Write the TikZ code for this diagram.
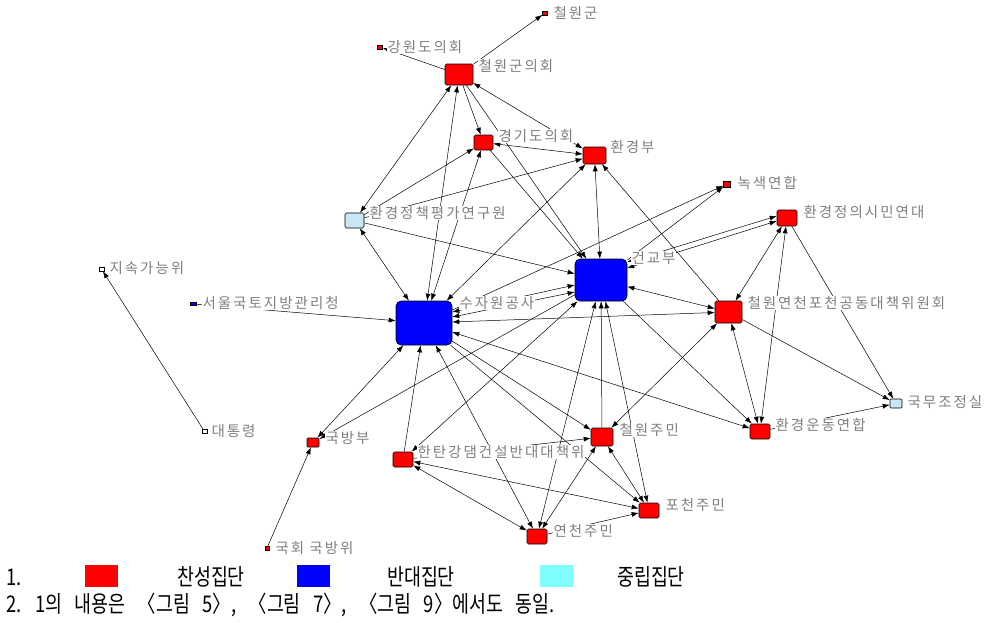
\documentclass[tikz,border=0pt]{standalone}
\usepackage{fontspec}
\setmainfont{Noto Sans CJK KR}
\newfontfamily\labf[LetterSpace=14]{Noto Sans CJK KR}
\newfontfamily\legf[FakeStretch=0.8,WordSpace=3]{Noto Sans CJK KR}
\usetikzlibrary{arrows.meta}
\definecolor{labgray}{HTML}{808080}
\definecolor{kblue}{HTML}{C8E6F4}
\definecolor{cyanleg}{HTML}{80FFFF}
\pgfdeclarelayer{edges}
\pgfdeclarelayer{labels}
\pgfsetlayers{edges,labels,main}
\begin{document}
\begin{tikzpicture}[x=1pt,y=-1pt,
  e/.style={-{Latex[length=7pt,width=5pt]}, line width=0.5pt, draw=black},
  eb/.style={{Latex[length=7pt,width=5pt]}-{Latex[length=7pt,width=5pt]}, line width=0.5pt, draw=black},
  nd/.style={draw=black, line width=0.6pt, inner sep=0pt, rounded corners=1.5pt},
  rn/.style={nd, fill=red},
  bn/.style={nd, fill=blue, rounded corners=5pt},
  cn/.style={nd, fill=kblue},
  wn/.style={nd, fill=white},
  tiny/.style={minimum width=5pt, minimum height=4pt, line width=0.5pt, rounded corners=0pt},
  lab/.style={font=\labf\fontsize{14.5}{15}\selectfont, text=labgray, fill=white, inner sep=0.3pt, anchor=west},
  legt/.style={font=\legf\fontsize{23}{25}\selectfont, text=black, inner sep=0pt},
  sq/.style={minimum width=33pt, minimum height=22pt, inner sep=0pt}
]
\useasboundingbox (0,0) rectangle (985,622);

% ---------- nodes ----------
\node[rn, tiny] (CWG) at (545,13) {};
\node[rn, tiny] (GWD) at (380,47) {};
\node[rn, minimum width=28pt, minimum height=21pt] (CWC) at (459,74.5) {};
\node[rn, minimum width=19pt, minimum height=15pt] (GGD) at (483.5,142.5) {};
\node[rn, minimum width=23pt, minimum height=17pt] (ENV) at (594.5,155.5) {};
\node[rn, tiny, minimum width=7pt, minimum height=6pt] (NOK) at (727,184) {};
\node[rn, minimum width=20pt, minimum height=16pt] (HJS) at (787,218) {};
\node[cn, minimum width=19pt, minimum height=15pt] (KEI) at (354.5,220.5) {};
\node[bn, minimum width=52pt, minimum height=42pt] (MOC) at (601,280) {};
\node[bn, minimum width=56pt, minimum height=44pt] (KWC) at (424,323) {};
\node[wn, tiny] (SUS) at (101.5,269) {};
\node[nd, fill=blue, tiny, minimum width=6pt, minimum height=3pt] (SEO) at (193,304) {};
\node[rn, minimum width=27pt, minimum height=22pt] (JCC) at (728.5,312) {};
\node[cn, minimum width=12pt, minimum height=9pt, rounded corners=1pt] (OPC) at (896,403.5) {};
\node[rn, minimum width=20pt, minimum height=15pt] (KFEM) at (760,431.5) {};
\node[wn, tiny] (PRE) at (204.5,431.5) {};
\node[rn, minimum width=12pt, minimum height=9pt, rounded corners=1pt] (MND) at (313,442.5) {};
\node[rn, minimum width=22pt, minimum height=18pt] (CWR) at (602,437) {};
\node[rn, minimum width=20pt, minimum height=15pt] (HTG) at (403,459.5) {};
\node[rn, minimum width=20pt, minimum height=15pt] (PCR) at (649,510.5) {};
\node[rn, minimum width=20pt, minimum height=15pt] (YCR) at (537,536.5) {};
\node[rn, tiny, minimum width=4pt] (NAD) at (267,548) {};

% ---------- labels ----------
\begin{pgfonlayer}{labels}
\node[lab] (lCWG) at (553,13) {철원군};
\node[lab] (lGWD) at (387,47) {강원도의회};
\node[lab] (lCWC) at (478,66) {철원군의회};
\node[lab] (lGGD) at (498,136) {경기도의회};
\node[lab] (lENV) at (610,147) {환경부};
\node[lab] (lNOK) at (737,183) {녹색연합};
\node[lab] (lHJS) at (803,212) {환경정의시민연대};
\node[lab] (lKEI) at (369,213) {환경정책평가연구원};
\node[lab] (lMOC) at (631,258) {건교부};
\node[lab] (lKWC) at (459,303) {수자원공사};
\node[lab] (lSUS) at (109,268) {지속가능위};
\node[lab] (lSEO) at (202,303) {서울국토지방관리청};
\node[lab] (lJCC) at (747,303) {철원연천포천공동대책위원회};
\node[lab] (lOPC) at (907,402) {국무조정실};
\node[lab] (lKFEM) at (775,425) {환경운동연합};
\node[lab] (lPRE) at (211,431) {대통령};
\node[lab] (lMND) at (325,438) {국방부};
\node[lab] (lCWR) at (619,430) {철원주민};
\node[lab] (lHTG) at (417,452) {한탄강댐건설반대대책위};
\node[lab] (lPCR) at (665,505) {포천주민};
\node[lab] (lYCR) at (553,531) {연천주민};
\node[lab] (lNAD) at (275,548) {국회 국방위};
\end{pgfonlayer}

% ---------- edges ----------
\begin{pgfonlayer}{edges}
\draw[e] (CWC) -- (CWG);
\draw[e] (CWC) -- (GWD);
\draw[e] (CWC) -- (GGD);
\draw[eb] (CWC) -- (KEI);
\draw[eb] (CWC) -- (ENV);
\draw[eb] (KWC) -- (CWC);
\draw[eb] (KWC) -- (GGD);
\draw[eb] (GGD) -- (ENV);
\draw[e] (KEI) -- (GGD);
\draw[e] (KEI) -- (ENV);
\draw[eb] (KWC) -- (ENV);
\draw[eb] (ENV) -- (MOC);
\draw[e] (JCC) -- (ENV);
\draw[e] (GGD) -- (MOC);
\draw[e] (CWC) -- (MOC);
\draw[e] (KEI) -- (MOC);
\draw[eb] (KEI) -- (KWC);
\draw[eb] ([yshift=11pt]KWC.east) -- ([yshift=-5pt]MOC.west);
\draw[eb] ([yshift=6pt]KWC.east) -- ([yshift=-12pt]MOC.west);
\draw[e] (SEO) -- (KWC);
\draw[eb] (JCC) -- (KWC);
\draw[eb] (MOC) -- (JCC);
\draw[eb] ([yshift=18pt]MOC.east) -- ([yshift=2pt]HJS.west);
\draw[eb] ([yshift=12pt]MOC.east) -- ([yshift=-3pt]HJS.west);
\draw[e] (KWC) -- (NOK);
\draw[e] (MOC) -- (NOK);
\draw[eb] (HJS) -- (JCC);
\draw[eb] (HJS) -- (KFEM);
\draw[e] (HJS) -- (OPC);
\draw[eb] (JCC) -- (KFEM);
\draw[e] (JCC) -- (OPC);
\draw[e] (KFEM) -- (OPC);
\draw[eb] (KWC) -- (KFEM);
\draw[e] (MOC) -- (KFEM);
\draw[eb] (CWR) -- (JCC);
\draw[e] (CWR) -- (MOC);
\draw[eb] (YCR) -- (MOC);
\draw[eb] (PCR) -- (MOC);
\draw[e] (KWC) -- (CWR);
\draw[e] (KWC) -- (PCR);
\draw[e] (HTG) -- (KWC);
\draw[eb] (HTG) -- (MOC);
\draw[eb] (HTG) -- (PCR);
\draw[eb] (HTG) -- (YCR);
\draw[e] (HTG) -- (CWR);
\draw[eb] (KWC) -- (YCR);
\draw[eb] (MND) -- (KWC);
\draw[e] (MOC) -- (MND);
\draw[e] (NAD) -- (MND);
\draw[e] (PRE) -- (SUS);
\draw[eb] (CWR) -- (PCR);
\draw[eb] (CWR) -- (YCR);
\draw[e] (YCR) -- (PCR);
\end{pgfonlayer}

% ---------- legend ----------
\node[legt, anchor=west] (leg1) at (6,577) {1.};
\node[sq, fill=red] (sqR) at (101.5,576) {};
\node[legt] (tR) at (211,577) {찬성집단};
\node[sq, fill=blue] (sqB) at (313.5,576) {};
\node[legt] (tB) at (421,577) {반대집단};
\node[sq, fill=cyanleg] (sqC) at (556.5,576) {};
\node[legt] (tC) at (651,577) {중립집단};
\node[legt, anchor=west] (leg2) at (6,605) {2. 1의 내용은 〈그림 5〉, 〈그림 7〉, 〈그림 9〉에서도 동일.};
\end{tikzpicture}
\end{document}
